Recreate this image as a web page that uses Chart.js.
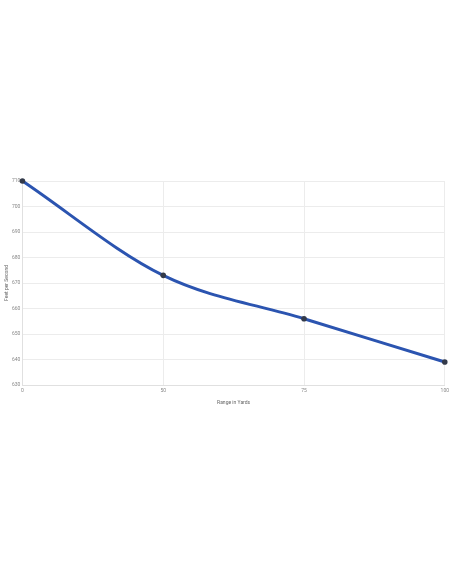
<!DOCTYPE html>
<html><head><meta charset="utf-8">
<script src="https://cdn.jsdelivr.net/npm/chart.js@4/dist/chart.umd.min.js"></script>
<style>
html,body{margin:0;padding:0;background:#fff;width:452px;height:584px;overflow:hidden}
#wrap{position:absolute;left:0;top:172px;width:452px;height:238px}
</style></head>
<body>
<div id="wrap"><canvas id="c"></canvas></div>
<script>
const categories = ['0','50','75','100'];
const velocity = [710, 673, 656, 639];
const yTitle = 'Feet per Second';
const xTitle = 'Range in Yards';

new Chart(document.getElementById('c'), {
  type: 'line',
  data: {
    labels: categories,
    datasets: [{
      data: velocity,
      borderColor: '#2b54b0',
      borderWidth: 3,
      pointBackgroundColor: '#333a4a',
      pointBorderColor: '#333a4a',
      pointRadius: 2.8,
      pointBorderWidth: 0,
      tension: 0.4,
      cubicInterpolationMode: 'monotone',
      fill: false,
      clip: false
    }]
  },
  options: {
    responsive: true,
    maintainAspectRatio: false,
    animation: false,
    plugins: { legend: { display: false }, tooltip: { enabled: false } },
    layout: { padding: { left: 4, right: 0, top: 9, bottom: 0 } },
    scales: {
      x: {
        offset: false,
        grid: { color: '#ececec', drawTicks: false },
        border: { color: '#e0e0e0' },
        ticks: { color: '#888', font: { size: 5, family: 'Roboto' }, padding: 3 },
        title: { display: true, text: xTitle, color: '#666', font: { size: 5, family: 'Roboto' }, padding: { top: 3 } }
      },
      y: {
        min: 630, max: 710,
        grid: { color: '#ececec', drawTicks: false },
        border: { color: '#e0e0e0' },
        ticks: { stepSize: 10, color: '#888', font: { size: 5, family: 'Roboto' }, padding: 2 },
        title: { display: true, text: yTitle, color: '#666', font: { size: 5, family: 'Roboto' }, padding: { top: 0, bottom: 0 } }
      }
    }
  }
});
</script>
</body></html>
